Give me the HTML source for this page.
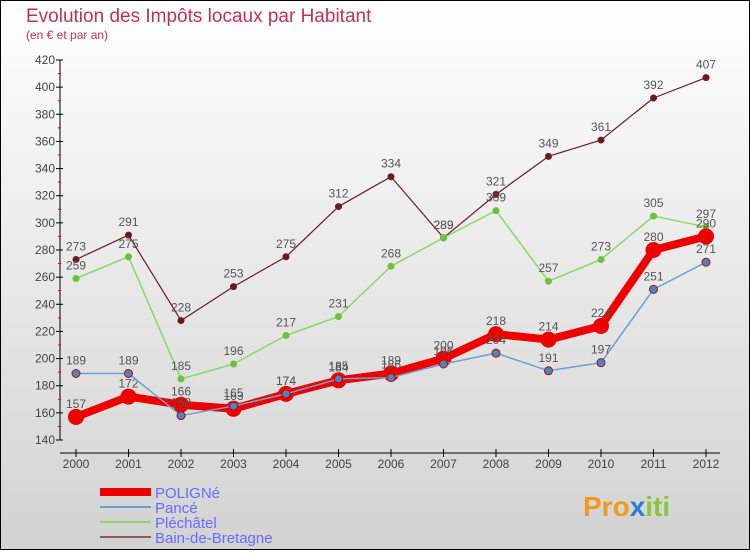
<!DOCTYPE html>
<html><head><meta charset="utf-8"><style>
body{margin:0;}
#c{width:750px;height:550px;position:relative;font-family:"Liberation Sans",sans-serif;}
</style></head><body>
<div id="c">
<svg id="s" width="750" height="550" xmlns="http://www.w3.org/2000/svg">
<defs><linearGradient id="bg" x1="0" y1="0" x2="0" y2="1"><stop offset="0" stop-color="#ffffff"/><stop offset="1" stop-color="#d2d2d2"/></linearGradient></defs>
<rect x="0.5" y="0.5" width="749" height="549" fill="url(#bg)" stroke="#000"/>
<text x="26" y="22" font-size="19" fill="#c0305a">Evolution des Impôts locaux par Habitant</text>
<text x="26" y="39" font-size="12" fill="#c0305a">(en € et par an)</text>
<g id="axes"></g><g id="series"></g><g id="legend"></g>
<text x="583" y="516" font-size="28" font-weight="bold" fill="#f39a1e">Pro<tspan fill="#2a7fd4">x</tspan><tspan fill="#8cc63e">iti</tspan></text>
</svg>
</div>
<script>
const years=[2000,2001,2002,2003,2004,2005,2006,2007,2008,2009,2010,2011,2012];
const yTicks=[140,160,180,200,220,240,260,280,300,320,340,360,380,400,420];
const seriesNames=["POLIGNé","Pancé","Pléchâtel","Bain-de-Bretagne"];
const polignе=[157,172,166,163,174,184,189,200,218,214,224,280,290];
const pance=[189,189,158,165,174,185,186,196,204,191,197,251,271];
const plechatel=[259,275,185,196,217,231,268,289,309,257,273,305,297];
const bain=[273,291,228,253,275,312,334,289,321,349,361,392,407];
const NS="http://www.w3.org/2000/svg";
const X=i=>76+i*52.5;
const Y=v=>440-(v-140)*380/280;
function mk(t,a,p){const e=document.createElementNS(NS,t);for(const k in a)e.setAttribute(k,a[k]);p.appendChild(e);return e;}
const ax=document.getElementById('axes');
let l=mk('line',{x1:60,y1:Y(420),x2:60,y2:440,stroke:'#000'},ax);

l=mk('line',{x1:60,y1:453,x2:720,y2:453,stroke:'#000'},ax);

yTicks.forEach(v=>{mk('line',{x1:56,y1:Y(v),x2:63,y2:Y(v),stroke:'#000'},ax);
 if(v<420)mk('line',{x1:58,y1:Y(v+10),x2:61,y2:Y(v+10),stroke:'#e00'},ax);
 const t=mk('text',{x:55,y:Y(v)+4,'font-size':12,fill:'#444','text-anchor':'end'},ax);t.textContent=v;
 });
years.forEach((y,i)=>{mk('line',{x1:X(i),y1:449,x2:X(i),y2:457,stroke:'#000'},ax);
 const t=mk('text',{x:X(i),y:468,'font-size':12,fill:'#444','text-anchor':'middle'},ax);t.textContent=y;
 });
const sg=document.getElementById('series');
const defs=[[bain,'#6b1a22','#6b1a22',1.2,3.5,'bain-de-bretagne'],[plechatel,'#8fd66a','#6cc23a',1.5,3.5,'plechatel'],[polignе,'#ee0000','#ee0000',8,8,'poligne'],[pance,'#6aa2cc','#3d8ac8',1.5,4,'pance']];
defs.forEach(([d,c,fc,w,r,n])=>{
 const g=mk('g',{},sg);
 const p=mk('polyline',{points:d.map((v,i)=>X(i)+','+Y(v)).join(' '),fill:'none',stroke:c,'stroke-width':w,'stroke-linejoin':'round'},g);
 
 d.forEach((v,i)=>{const m=mk('circle',{cx:X(i),cy:Y(v),r:r,fill:fc,stroke:n=='pance'?'#c00':'none','stroke-width':n=='pance'?1:0},g);
  
  const t=mk('text',{x:X(i),y:Y(v)-9,'font-size':12,fill:'#555','text-anchor':'middle'},g);t.textContent=v;
  });
});
const lg=document.getElementById('legend');
const lc=[['#ee0000',8],['#6aa2cc',2],['#8fd66a',2],['#8a5a5a',2]];
seriesNames.forEach((n,i)=>{const y=492+i*15;
 const g=mk('g',{},lg);
 mk('line',{x1:100,y1:y,x2:151,y2:y,stroke:lc[i][0],'stroke-width':lc[i][1]},g);
 const t=mk('text',{x:155,y:y+6,'font-size':15,fill:'#6a6aff'},g);t.textContent=n;
 });
</script>
</body></html>
